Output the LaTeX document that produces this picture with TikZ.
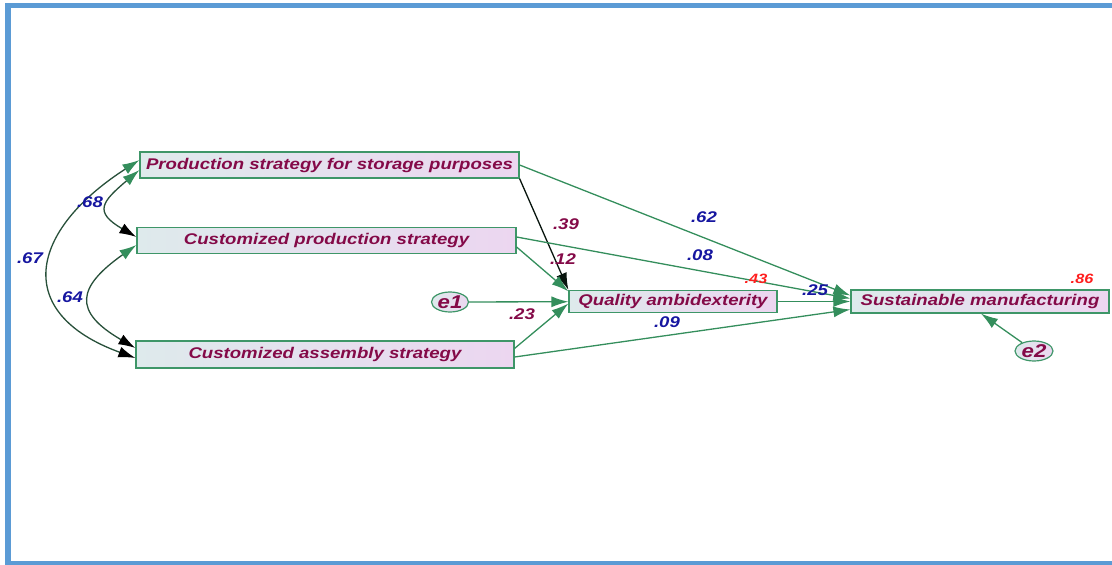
\documentclass[tikz,border=0pt]{standalone}
\usepackage{fontspec}
\setmainfont{Liberation Sans}
\usepackage{graphicx}
\usetikzlibrary{arrows.meta,shapes.geometric}
\definecolor{framebl}{RGB}{91,155,213}
\definecolor{boxgreen}{RGB}{62,150,104}
\definecolor{arrgreen}{RGB}{52,142,92}
\definecolor{covline}{RGB}{40,80,58}
\definecolor{boxleft}{RGB}{222,234,236}
\definecolor{boxright}{RGB}{236,214,240}
\definecolor{maroon}{RGB}{132,10,72}
\definecolor{coefblue}{RGB}{22,22,160}
\definecolor{coefred}{RGB}{255,30,30}
\newcommand{\amosfont}{\fontsize{15.5}{18}\selectfont\bfseries\itshape}
\newcommand{\stretchtext}[1]{\scalebox{1.2}[1]{#1}}
\tikzset{
>={Latex[length=17pt,width=11pt]},
var/.style={draw=boxgreen, line width=1.2pt, left color=boxleft, right color=boxright,
  minimum height=25pt, inner sep=0pt, font=\amosfont, text=maroon},
err/.style={ellipse, draw=boxgreen, line width=1.2pt, left color=boxleft, right color=boxright,
  minimum width=37pt, minimum height=20pt, inner sep=0pt, font=\fontsize{18.5}{19}\selectfont\bfseries\itshape, text=maroon},
reg/.style={->, line width=1.3pt, draw=arrgreen, >={Latex[length=17pt,width=11pt,color=arrgreen]}},
darkreg/.style={->, line width=1.3pt, draw=black!85!arrgreen},
cov/.style={line width=1.3pt, draw=covline, arrows={Latex[length=17pt,width=11pt,color=arrgreen]-Latex[length=17pt,width=11pt,color=black]}},
coef/.style={inner sep=0pt, font=\amosfont, text=coefblue},
weight/.style={coef, text=maroon},
rsq/.style={inner sep=0pt, font=\fontsize{13.5}{15}\selectfont\bfseries\itshape, text=coefred},
}

\begin{document}
\begin{tikzpicture}[x=1pt,y=-1pt]
        \useasboundingbox (0,0) rectangle (1112,565);
        \draw[framebl, line width=5.5pt] (8,565) -- (8,5.5) -- (1112,5.5);
        \draw[framebl, line width=4.5pt] (5,563) -- (1112,563);

        \node[var,minimum width=379pt,minimum height=26pt] (p1) at (329.5,165) {\stretchtext{Production strategy for storage purposes}};
        \node[var,minimum width=379pt,minimum height=26pt] (p2) at (326.5,240.5) {\stretchtext{Customized production strategy}};
        \node[var,minimum width=378pt,minimum height=27pt] (p3) at (325,354.5) {\stretchtext{Customized assembly strategy}};
        \node[var,minimum width=208pt,minimum height=22pt] (qa) at (673,301.5) {\stretchtext{Quality ambidexterity}};
        \node[var,minimum width=258pt,minimum height=23pt] (sm) at (980,301.5) {\stretchtext{Sustainable manufacturing}};
        \node[err] (e1) at (450,302) {\stretchtext{e1}};
        \node[err,minimum width=38pt] (e2) at (1034,351) {\stretchtext{e2}};

        % covariances
        \draw[cov] ([yshift=5pt]p1.west) .. controls (29,231) and (12,313) .. ([yshift=-3.5pt]p3.west);
        \draw[cov] ([yshift=-5pt]p1.west) .. controls (101.5,202) and (93.5,212) .. ([yshift=3.5pt]p2.west);
        \draw[cov] ([yshift=-4.5pt]p2.west) .. controls (77,287) and (72.5,311.5) .. ([yshift=6.5pt]p3.west);

        % paths to quality ambidexterity
        \draw (p1.south east) edge[darkreg] (qa.north west);
        \draw ([yshift=-6.5pt]p2.east) edge[reg] ([yshift=-1.5pt]qa.north west);
        \draw (e1) edge[reg] (qa);
        \draw ([yshift=-8pt]p3.north east) edge[reg] ([yshift=-2pt]qa.west);

        % paths to sustainable manufacturing
        \draw (p1.east) edge[reg] ([yshift=6pt]sm.west);
        \draw ([yshift=3.5pt]p2.east) edge[reg] ([yshift=3pt]sm.west);
        \draw (qa.east) edge[reg] (sm.west);
        \draw ([yshift=-2.5pt]p3.east) edge[reg] ([yshift=-8pt]sm.west);
        \draw (e2) edge[reg] ([xshift=1pt]sm.south);

        % estimates
        \node[coef] (c68) at (90,202) {\stretchtext{.68}};
        \node[coef] (c67) at (30,258) {\stretchtext{.67}};
        \node[coef] (c64) at (70,297) {\stretchtext{.64}};
        \node[weight] (c39) at (566,224) {\stretchtext{.39}};
        \node[weight] (c12) at (563,259) {\stretchtext{.12}};
        \node[weight] (c23) at (522,314) {\stretchtext{.23}};
        \node[coef] (c62) at (704,217) {\stretchtext{.62}};
        \node[coef] (c08) at (700,255) {\stretchtext{.08}};
        \node[coef] (c25) at (815,290) {\stretchtext{.25}};
        \node[coef] (c09) at (667,322) {\stretchtext{.09}};
        \node[rsq] (r43) at (756,279) {\stretchtext{.43}};
        \node[rsq] (r86) at (1082,279) {\stretchtext{.86}};
    \end{tikzpicture}
\end{document}
